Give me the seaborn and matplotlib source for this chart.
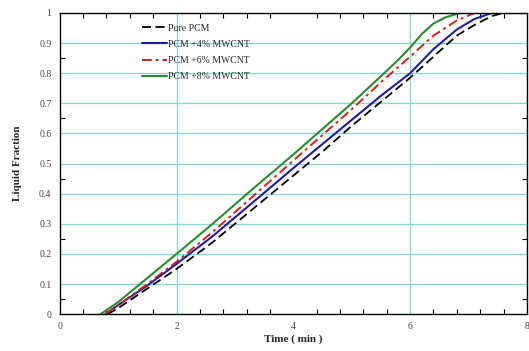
import numpy as np
import pandas as pd
import matplotlib
matplotlib.use("Agg")
import matplotlib.pyplot as plt
import seaborn as sns
from matplotlib.ticker import FixedLocator

# ---- data (time in min, liquid fraction) ----
pure_t = [0.82, 1.0, 1.5, 2.0, 2.6, 3.3, 4.0, 4.5, 5.0, 5.5, 6.0, 6.4, 6.8, 7.1, 7.4, 7.6, 8.0]
pure_f = [0, 0.02, 0.085, 0.15, 0.236, 0.348, 0.46, 0.54, 0.625, 0.705, 0.785, 0.855, 0.925, 0.96, 0.99, 1.0, 1.0]

p4_t = [0.78, 1.0, 1.5, 2.0, 2.6, 3.3, 4.0, 4.5, 5.0, 5.5, 6.0, 6.4, 6.8, 7.1, 7.4, 8.0]
p4_f = [0, 0.03, 0.095, 0.167, 0.256, 0.37, 0.485, 0.565, 0.645, 0.725, 0.80, 0.88, 0.945, 0.98, 1.0, 1.0]

p6_t = [0.78, 1.0, 1.5, 2.0, 2.6, 3.3, 4.0, 4.5, 5.0, 5.5, 6.0, 6.4, 6.8, 7.1, 8.0]
p6_f = [0, 0.03, 0.10, 0.174, 0.27, 0.39, 0.51, 0.595, 0.68, 0.77, 0.855, 0.925, 0.975, 1.0, 1.0]

p8_t = [0.70, 1.0, 1.5, 2.0, 2.6, 3.3, 4.0, 4.5, 5.0, 5.5, 5.8, 6.0, 6.2, 6.4, 6.6, 6.85, 8.0]
p8_f = [0, 0.04, 0.12, 0.20, 0.297, 0.415, 0.53, 0.615, 0.70, 0.79, 0.845, 0.885, 0.93, 0.965, 0.985, 1.0, 1.0]

labels = ["Pure PCM", "PCM +4% MWCNT", "PCM +6% MWCNT", "PCM +8% MWCNT"]
x_ticks = [0, 2, 4, 6, 8]
y_ticks = [0, 0.1, 0.2, 0.3, 0.4, 0.5, 0.6, 0.7, 0.8, 0.9, 1]
y_ticklabels = ["0", "0.1", "0.2", "0.3", "0.4", "0.5", "0.6", "0.7", "0.8", "0.9", "1"]

sns.set_style("ticks")
plt.rcParams["font.family"] = ["Liberation Serif", "DejaVu Serif"]

fig = plt.figure(figsize=(5.29, 3.51), dpi=100)
ax = fig.add_axes([0.113, 0.105, 0.883, 0.858])

# cyan grid: every 0.1 horizontally, only at 2 and 6 vertically
grid_c = "#7fd6dc"
for yv in y_ticks[1:-1]:
    ax.axhline(yv, color=grid_c, lw=0.9, zorder=0)
for xv in [2, 6]:
    ax.axvline(xv, color=grid_c, lw=0.9, zorder=0)

sns.lineplot(x=pure_t, y=pure_f, ax=ax, color="black", lw=1.3,
             linestyle=(0, (5, 2.5)), estimator=None, label=labels[0])
sns.lineplot(x=p4_t, y=p4_f, ax=ax, color="#1c1ca8", lw=1.5,
             estimator=None, label=labels[1])
sns.lineplot(x=p6_t, y=p6_f, ax=ax, color="#d42020", lw=1.4,
             linestyle=(0, (5, 2, 1.5, 2)), estimator=None, label=labels[2])
sns.lineplot(x=p8_t, y=p8_f, ax=ax, color="#2a8a2e", lw=1.5,
             estimator=None, label=labels[3])

ax.set_xlim(0, 8)
ax.set_ylim(0, 1)
ax.set_xticks(x_ticks)
ax.set_xticklabels([str(v) for v in x_ticks])
ax.xaxis.set_minor_locator(FixedLocator([v for v in np.arange(0.4, 8, 0.4)
                                         if abs(v / 2 - round(v / 2)) > 0.01]))
ax.set_yticks(y_ticks)
ax.set_yticklabels(y_ticklabels)
ax.yaxis.set_minor_locator(FixedLocator([0.05, 0.25, 0.45, 0.65, 0.85]))

ax.tick_params(which="both", direction="in", top=True, right=True,
               labelsize=7, colors="black", labelcolor="#444444")
ax.tick_params(which="major", length=0, pad=6)
ax.tick_params(which="minor", length=3.5, width=0.8)
for s in ax.spines.values():
    s.set_color("black")
    s.set_linewidth(1.0)

ax.set_xlabel("Time ( min )", fontsize=8, fontweight="bold", labelpad=2)
ax.set_ylabel("Liquid Fraction", fontsize=8, fontweight="bold", labelpad=12)

ax.legend(loc="upper left", bbox_to_anchor=(0.175, 0.965), frameon=False,
          fontsize=7, handlelength=2.6, handletextpad=0.15, labelspacing=0.75,
          borderpad=0, borderaxespad=0)

fig.savefig("out.png", dpi=100)
